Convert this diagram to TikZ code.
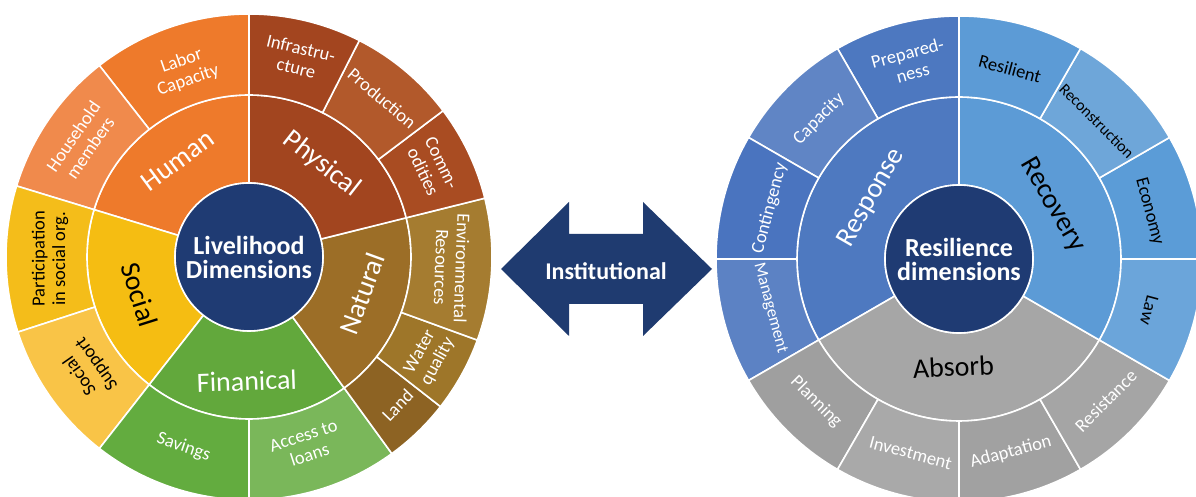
\documentclass[tikz,border=0pt]{standalone}
\usepackage{fontspec}
\setmainfont{Carlito}
\begin{document}
\begin{tikzpicture}[x=1pt,y=1pt,
  seg/.style={draw=white, line width=1.6pt, line join=round},
  hub/.style={circle, draw=white, line width=1.6pt, minimum size=148pt, inner sep=0pt,
    text=white, align=center, font=\fontsize{26}{24}\selectfont\bfseries},
  mainlbl/.style={font=\fontsize{28}{30}\selectfont, text=white, align=center, inner sep=0pt},
  sublbl/.style={font=\fontsize{18.5}{20.5}\selectfont, text=white, align=center, inner sep=0pt},
  dark/.style={text=black},
]
\definecolor{hubblue}{HTML}{1F3B73}
\definecolor{arrowblue}{HTML}{1F3B70}
% livelihood palette
\definecolor{humanC}{HTML}{EE7A2B}
\definecolor{laborC}{HTML}{EE7A2B}
\definecolor{houseC}{HTML}{F08A4C}
\definecolor{physC}{HTML}{A2451F}
\definecolor{infraC}{HTML}{A3451F}
\definecolor{prodC}{HTML}{B2592B}
\definecolor{commC}{HTML}{A94C22}
\definecolor{natC}{HTML}{9C6E27}
\definecolor{envC}{HTML}{A57C30}
\definecolor{waterC}{HTML}{9E7629}
\definecolor{landC}{HTML}{8D6323}
\definecolor{finC}{HTML}{62A83C}
\definecolor{saveC}{HTML}{63AC3F}
\definecolor{loanC}{HTML}{7AB75A}
\definecolor{socC}{HTML}{F5BD12}
\definecolor{partC}{HTML}{F4BD1A}
\definecolor{suppC}{HTML}{F9C447}
% resilience palette
\definecolor{respC}{HTML}{4E79C0}
\definecolor{prepC}{HTML}{4D78C0}
\definecolor{capC}{HTML}{6085C5}
\definecolor{contC}{HTML}{4A74BF}
\definecolor{mgmtC}{HTML}{5C82C4}
\definecolor{recC}{HTML}{5C9BD6}
\definecolor{resilC}{HTML}{5C9BD6}
\definecolor{reconC}{HTML}{6EA6D9}
\definecolor{econC}{HTML}{5B9CD7}
\definecolor{lawC}{HTML}{6BA5DA}
\definecolor{absC}{HTML}{A6A6A6}
\definecolor{planC}{HTML}{9F9F9F}
\definecolor{investC}{HTML}{A9A9A9}
\definecolor{adaptC}{HTML}{A1A1A1}
\definecolor{resistC}{HTML}{A5A5A5}

% annular sector: inner radius, outer radius, start angle, end angle, fill
\newcommand\ringseg[5]{%
  \filldraw[seg, fill=#5] (#3:#2pt) arc[start angle=#3, end angle=#4, radius=#2pt]
    -- (#4:#1pt) arc[start angle=#4, end angle=#3, radius=#1pt] -- cycle;}

\useasboundingbox (0,0) rectangle (1196,497);
\clip (0,0) rectangle (1196,497);

% ---------------- livelihood wheel ----------------
\begin{scope}[shift={(249,240)}]
  % inner ring
  \ringseg{74}{162}{90}{163}{humanC}
  \ringseg{74}{162}{163}{232}{socC}
  \ringseg{74}{162}{232}{306}{finC}
  \ringseg{74}{162}{306}{374}{natC}
  \ringseg{74}{162}{14}{90}{physC}
  % outer ring
  \ringseg{162}{243}{90}{128}{laborC}
  \ringseg{162}{243}{128}{163}{houseC}
  \ringseg{162}{243}{163}{198}{partC}
  \ringseg{162}{243}{198}{232}{suppC}
  \ringseg{162}{243}{232}{270}{saveC}
  \ringseg{162}{243}{270}{306}{loanC}
  \ringseg{162}{243}{306}{322}{landC}
  \ringseg{162}{243}{322}{340}{waterC}
  \ringseg{162}{243}{340}{374}{envC}
  \ringseg{162}{243}{14}{37}{commC}
  \ringseg{162}{243}{37}{63}{prodC}
  \ringseg{162}{243}{63}{90}{infraC}

  \node[hub, fill=hubblue] (livelihood) at (0,0) {Livelihood\\Dimensions};

  \node[mainlbl, rotate=36.5] (human) at (126.5:120) {Human};
  \node[mainlbl, rotate=-38] (physical) at (52:118) {Physical};
  \node[mainlbl, rotate=70] (natural) at (-18:119) {Natural};
  \node[mainlbl, rotate=2] (financial) at (269:124) {Finanical};
  \node[mainlbl, dark, rotate=-72.5] (social) at (199:116) {Social};

  \node[sublbl, rotate=19] (labor) at (109:197) {Labor\\Capacity};
  \node[sublbl, rotate=55.5] (household) at (145.5:203) {Household\\members};
  \node[sublbl, dark, rotate=90] (participation) at (180.5:199) {Participation\\in social org.};
  \node[sublbl, dark, rotate=125] (support) at (215:196) {Social\\Support};
  \node[sublbl, rotate=-19] (savings) at (251:201) {Savings};
  \node[sublbl, rotate=18] (loans) at (287:197) {Access to\\loans};
  \node[sublbl, rotate=46] (land) at (315:210) {Land};
  \node[sublbl, rotate=61] (water) at (331:206) {Water\\quality};
  \node[sublbl, rotate=-92] (environment) at (357:203) {Environmental\\Resources};
  \node[sublbl, rotate=-64.5] (commodities) at (26:204) {Comm-\\odities};
  \node[sublbl, rotate=-40] (production) at (50:207) {Production};
  \node[sublbl, rotate=-13.5] (infrastructure) at (76:205) {Infrastru-\\cture};
\end{scope}

% ---------------- double arrow ----------------
\fill[arrowblue] (501,228) -- (569,295) -- (569,263) -- (643,263) -- (643,295)
  -- (712,228) -- (643,161) -- (643,193) -- (569,193) -- (569,161) -- cycle;
\node[text=white, font=\fontsize{24}{26}\selectfont\bfseries] (institutional) at (606,226) {Institutional};

% ---------------- resilience wheel ----------------
\begin{scope}[shift={(959,238)}]
  % inner ring
  \ringseg{74}{162}{90}{210}{respC}
  \ringseg{74}{162}{210}{330}{absC}
  \ringseg{74}{162}{-30}{90}{recC}
  % outer ring
  \ringseg{162}{243}{90}{120}{prepC}
  \ringseg{162}{243}{120}{150}{capC}
  \ringseg{162}{243}{150}{180}{contC}
  \ringseg{162}{243}{180}{210}{mgmtC}
  \ringseg{162}{243}{210}{240}{planC}
  \ringseg{162}{243}{240}{270}{investC}
  \ringseg{162}{243}{270}{300}{adaptC}
  \ringseg{162}{243}{300}{330}{resistC}
  \ringseg{162}{243}{-30}{0}{lawC}
  \ringseg{162}{243}{0}{30}{econC}
  \ringseg{162}{243}{30}{60}{reconC}
  \ringseg{162}{243}{60}{90}{resilC}

  \node[hub, fill=hubblue] (resilience) at (0,0) {Resilience\\dimensions};

  \node[mainlbl, rotate=60] (response) at (145:107) {Response};
  \node[mainlbl, dark, rotate=-60] (recovery) at (30:108) {Recovery};
  \node[mainlbl, dark, rotate=3] (absorb) at (267:108) {Absorb};

  \node[sublbl, rotate=15] (preparedness) at (104:202) {Prepared-\\ness};
  \node[sublbl, rotate=45] (capacity) at (135:198) {Capacity};
  \node[sublbl, rotate=75] (contingency) at (165:196) {Contingency};
  \node[sublbl, rotate=-75, font=\fontsize{17}{19}\selectfont] (management) at (194.5:195) {Management};
  \node[sublbl, rotate=-45] (planning) at (225:202) {Planning};
  \node[sublbl, rotate=-15] (investment) at (256:200) {Investment};
  \node[sublbl, rotate=15] (adaptation) at (285:200) {Adaptation};
  \node[sublbl, rotate=45] (resistance) at (316:204) {Resistance};
  \node[sublbl, dark, rotate=-105] (law) at (345:197) {Law};
  \node[sublbl, dark, rotate=-75] (economy) at (14:196) {Economy};
  \node[sublbl, dark, rotate=-45, font=\fontsize{16}{18}\selectfont] (reconstruction) at (45:195) {Reconstruction};
  \node[sublbl, dark, rotate=-15] (resilient) at (75:197) {Resilient};
\end{scope}
\end{tikzpicture}
\end{document}
